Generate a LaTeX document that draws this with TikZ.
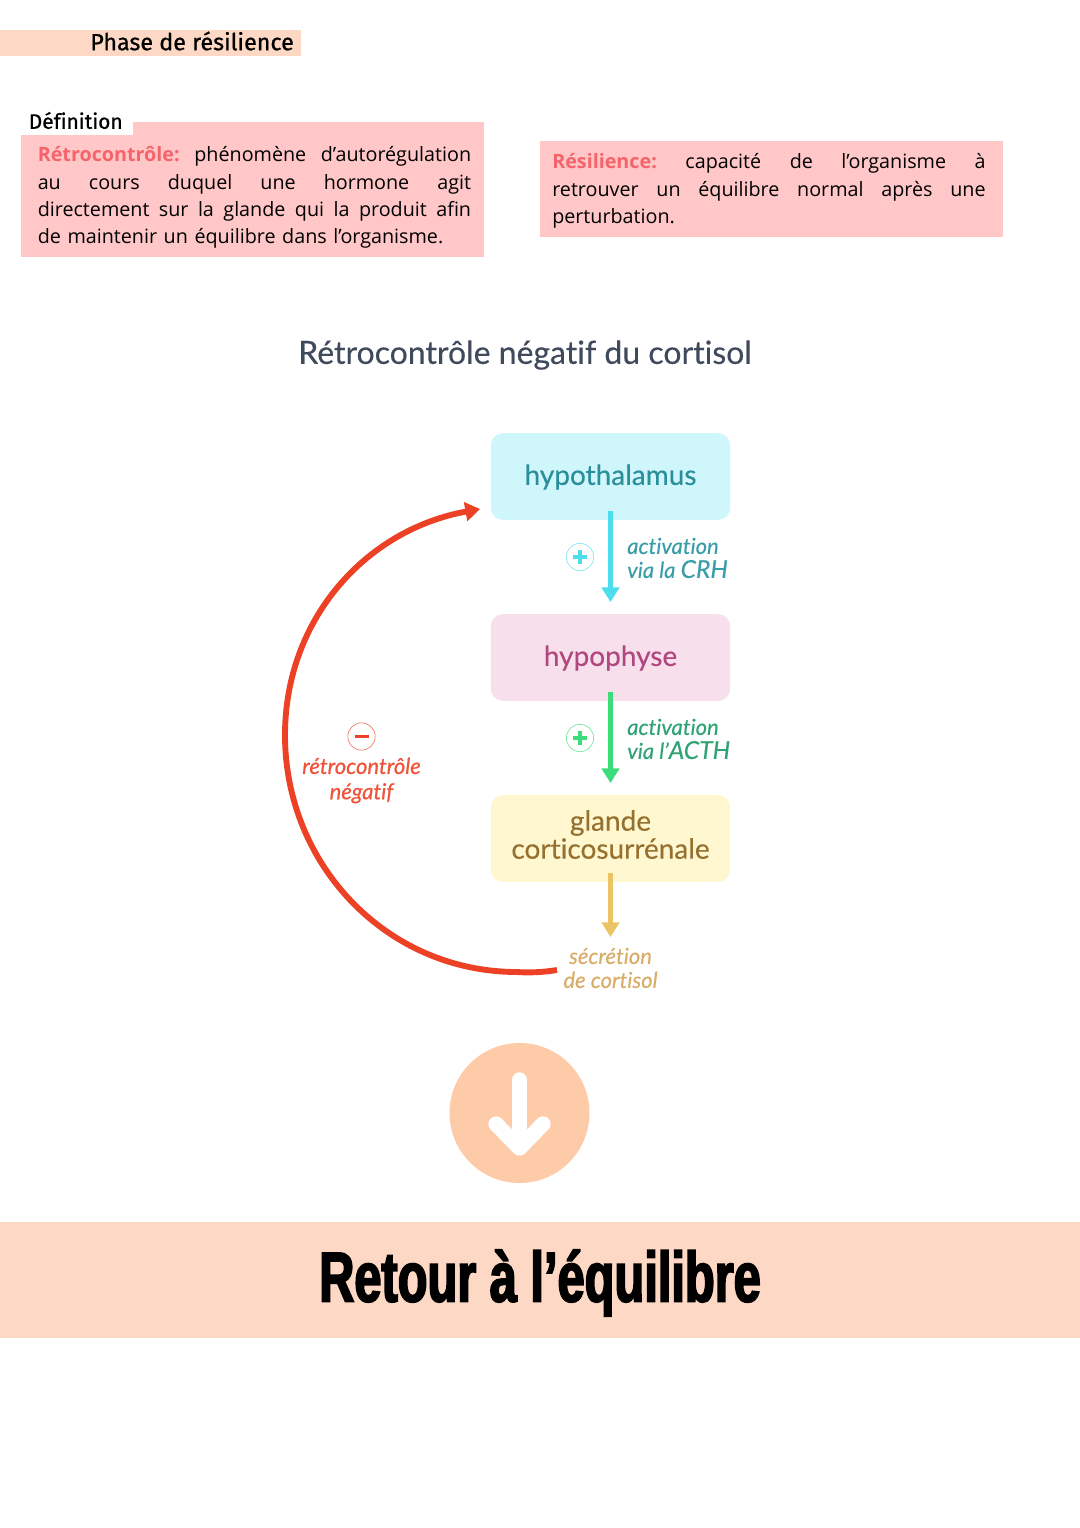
\documentclass[tikz,border=0pt]{standalone}
\usepackage{fontspec}
\usetikzlibrary{arrows.meta}
\setmainfont{Open Sans}[Ligatures=NoCommon]
\newfontfamily\headfont{Fira Sans}[FakeBold=0.8,Ligatures=NoCommon]
\newfontfamily\roundfont{Lato}[FakeBold=0.25,Ligatures=NoCommon]
\newfontfamily\roundheavy{Lato}[FakeBold=0.7,Ligatures=NoCommon]
\newfontfamily\bannerfont{Liberation Sans}[FakeStretch=0.69,FakeBold=2.5]
\newcommand{\fullline}[1]{\makebox[325pt][s]{\spaceskip=0pt\relax #1}}
\newcommand{\capsize}{\fontsize{18.5}{18}\selectfont}
\definecolor{peach}{HTML}{FDD9C5}
\definecolor{defred}{HTML}{FFC7C7}
\definecolor{redword}{HTML}{F4646A}
\definecolor{feedback}{HTML}{EC4125}
\definecolor{titlegray}{HTML}{3F4A5C}
\definecolor{hypofill}{HTML}{CFF7FB}
\definecolor{hypotext}{HTML}{2A8F9A}
\definecolor{physfill}{HTML}{F8DFEC}
\definecolor{phystext}{HTML}{B0477F}
\definecolor{glanfill}{HTML}{FFF7CF}
\definecolor{glantext}{HTML}{96702E}
\definecolor{crhlink}{HTML}{4DDDEC}
\definecolor{crhtext}{HTML}{3A9EA8}
\definecolor{acthlink}{HTML}{3DDC7A}
\definecolor{acthtext}{HTML}{2FA373}
\definecolor{cortlink}{HTML}{EBC564}
\definecolor{corttext}{HTML}{D9AC68}
\tikzset{
  px/.style={x=0.75pt,y=-0.75pt},
  defbox/.style={inner sep=0pt,text width=325pt,align=left,font=\fontsize{14.8}{20.4}\selectfont,anchor=north west},
  organ/.style={rounded corners=9pt,minimum width=179.5pt,minimum height=65pt,inner sep=0pt},
  organtext/.style={inner sep=0pt,align=center,font=\roundfont\fontsize{21}{21}\selectfont},
  note/.style={align=left,anchor=west,inner sep=0pt,font=\roundfont\itshape\fontsize{16.5}{18}\selectfont},
  sign/.style={circle,draw,line width=0.5pt,minimum size=20.5pt,inner sep=0pt},
  signbar/.style={line width=2.6pt},
  link/.style={line width=3.8pt,-{Triangle[width=13pt,length=11pt]}}
}
\begin{document}
\begin{tikzpicture}[px]
  \useasboundingbox (0,0) rectangle (1080,1528);
  % top
  \fill[peach] (0,29.5) rectangle (301,56);
  \node[anchor=west,inner sep=0pt,font=\headfont\fontsize{17.5}{20}\selectfont] (phase) at (90,41) {Phase de résilience};
  % definitions
  \fill[defred] (21,122) rectangle (484,257);
  \fill[white] (21,122) rectangle (133,135);
  \node[anchor=west,inner sep=0pt,font=\headfont\fontsize{15.7}{18}\selectfont] (defi) at (28.5,120.5) {Définition};
  \node[defbox] (retro) at (37.5,146.5) {\fullline{\textcolor{redword}{\textbf{Rétrocontrôle:}}\ phénomène d’autorégulation}\\
    \fullline{au cours duquel une hormone agit}\\
    \fullline{directement sur la glande qui la produit afin}\\
    de maintenir un équilibre dans l’organisme.};
  \fill[defred] (540,141) rectangle (1003,237);
  \node[defbox] (resil) at (552,153.5) {\fullline{\textcolor{redword}{\textbf{Résilience:}}\ capacité de l’organisme à}\\
    \fullline{retrouver un équilibre normal après une}\\
    perturbation.};
  % title
  \node[font=\roundfont\fontsize{24}{30}\selectfont,text=titlegray] (title) at (525,355) {Rétrocontrôle négatif du cortisol};
  % organs
  \node[organ,fill=hypofill] (hypo) at (610.5,476.5) {};
  \node[organ,fill=physfill] (hypoph) at (610.5,657.5) {};
  \node[organ,fill=glanfill] (glande) at (610.5,838.5) {};
  \node[organtext,text=hypotext] (hypolabel) at (610.5,477) {hypothalamus};
  \node[organtext,text=phystext] (physlabel) at (610.5,658) {hypophyse};
  \node[organtext,text=glantext] (glanlabel) at (610.5,834.5) {glande\\corticosurrénale};
  \node[note,text=crhtext] (crh) at (627,558) {activation\\via la {\capsize CRH}};
  \node[note,text=acthtext] (acth) at (627,739) {activation\\via l’{\capsize ACTH}};
  \node[align=center,inner sep=0pt,font=\roundfont\itshape\fontsize{16.5}{18}\selectfont,text=corttext] (cort) at (610.5,968) {sécrétion\\de cortisol};
  \node[align=center,inner sep=0pt,font=\roundheavy\itshape\fontsize{16.5}{19}\selectfont,text=feedback!90] (neg) at (361.5,780.5) {rétrocontrôle\\négatif};
  \node[sign,draw=crhlink!70] (plusa) at (580,557) {};
  \node[sign,draw=acthlink!70] (plusb) at (580,738) {};
  \node[sign,draw=feedback!70] (minus) at (361.5,736.5) {};
  \draw[signbar,crhlink] (plusa.center)+(-7,0) -- +(7,0) (plusa.center)+(0,-7) -- +(0,7);
  \draw[signbar,acthlink] (plusb.center)+(-7,0) -- +(7,0) (plusb.center)+(0,-7) -- +(0,7);
  \draw[signbar,feedback] (minus.center)+(-7,0) -- +(7,0);
  % connectors
  \coordinate (hypob) at (610.5,511);
  \coordinate (hypot) at (610.5,602);
  \coordinate (physb) at (610.5,692);
  \coordinate (physt) at (610.5,783);
  \coordinate (glanb) at (610.5,873);
  \coordinate (glant) at (610.5,937);
  \coordinate (fbstart) at (557,970);
  \coordinate (fbend) at (480,509);
  \draw[link,crhlink] (hypob) -- (hypot);
  \draw[link,acthlink] (physb) -- (physt);
  \draw[link,cortlink] (glanb) -- (glant);
  \draw[line width=4.4pt,feedback,-{Triangle[width=14pt,length=11pt]}] (fbstart) .. controls (545,972) and (530,973) .. (517,972)
    .. controls (387,972) and (285,865) .. (285,735)
    .. controls (285,620) and (365,530) .. (fbend);
  % bottom
  \fill[peach!85!orange] (519.5,1113) circle (70);
  \draw[white,line width=11.5pt,line cap=round] (519.5,1080) -- (519.5,1145);
  \draw[white,line width=11.5pt,line cap=round,line join=round] (496,1124) -- (519.5,1148) -- (543,1124);
  \fill[peach] (0,1222) rectangle (1080,1338);
  \node[font=\bannerfont\bfseries\fontsize{53}{60}\selectfont] (retour) at (540,1283) {Retour à l’équilibre};
\end{tikzpicture}
\end{document}
